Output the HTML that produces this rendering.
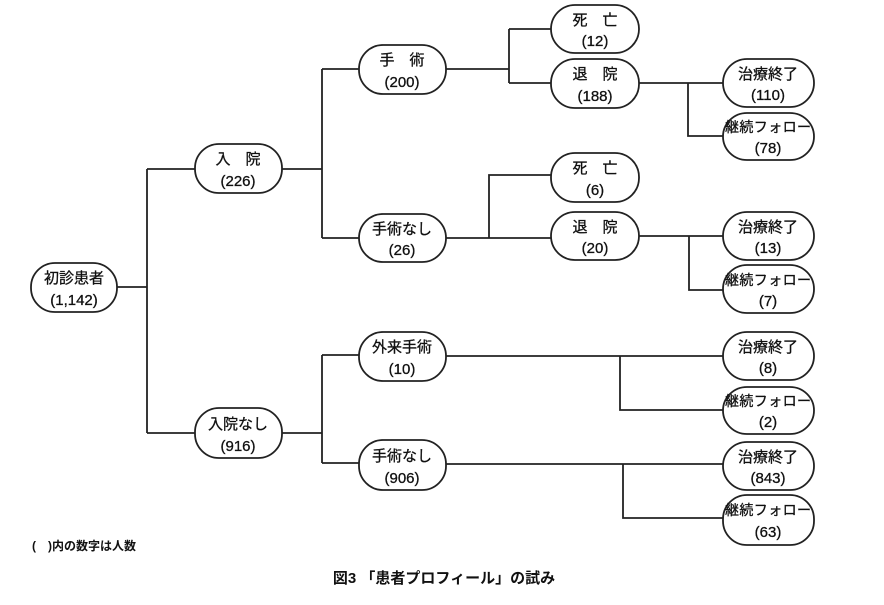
<!DOCTYPE html>
<html><head><meta charset="utf-8"><style>
body{margin:0;background:#fff;width:884px;height:600px;overflow:hidden;font-family:"Liberation Sans","Noto Sans CJK JP",sans-serif;}
</style></head><body>
<svg width="884" height="600" xmlns="http://www.w3.org/2000/svg" font-family="Liberation Sans, Noto Sans CJK JP, sans-serif">
<g stroke="#222" stroke-width="1.8" fill="none">
<path d="M117 287H147M147 169V433M147 169H195M147 433H195"/>
<path d="M282 169H322M322 69V238M322 69H359M322 238H359"/>
<path d="M446 69H509M509 29V83M509 29H551M509 83H551"/>
<path d="M639 83H723M688 83V136H723"/>
<path d="M446 238H551M489 238V175H551"/>
<path d="M639 236H723M689 236V290H723"/>
<path d="M282 433H322M322 355V463M322 355H359M322 463H359"/>
<path d="M446 356H723M620 356V410H723"/>
<path d="M446 464H723M623 464V518H723"/>
<g fill="#fff">
<rect x="31" y="263" width="86" height="49" rx="24"/>
<rect x="195" y="144" width="87" height="49" rx="24"/>
<rect x="359" y="45" width="87" height="49" rx="24"/>
<rect x="359" y="214" width="87" height="48" rx="24"/>
<rect x="551" y="5" width="88" height="48" rx="24"/>
<rect x="551" y="59" width="88" height="49" rx="24"/>
<rect x="551" y="153" width="88" height="49" rx="24"/>
<rect x="551" y="212" width="88" height="48" rx="24"/>
<rect x="723" y="59" width="91" height="48" rx="24"/>
<rect x="723" y="113" width="91" height="47" rx="24"/>
<rect x="723" y="212" width="91" height="48" rx="24"/>
<rect x="723" y="265" width="91" height="48" rx="24"/>
<rect x="195" y="408" width="87" height="50" rx="24"/>
<rect x="359" y="332" width="87" height="49" rx="24"/>
<rect x="359" y="440" width="87" height="50" rx="24"/>
<rect x="723" y="332" width="91" height="48" rx="24"/>
<rect x="723" y="387" width="91" height="47" rx="24"/>
<rect x="723" y="442" width="91" height="48" rx="24"/>
<rect x="723" y="495" width="91" height="50" rx="24"/>
</g></g>
<g font-size="15" fill="#111" text-anchor="middle" stroke="#111" stroke-width="0.3">
<text x="74" y="283">初診患者</text><text x="74" y="305">(1,142)</text>
<text x="238" y="164">入　院</text><text x="238" y="186">(226)</text>
<text x="402" y="65">手　術</text><text x="402" y="87">(200)</text>
<text x="402" y="234">手術なし</text><text x="402" y="255">(26)</text>
<text x="595" y="25">死　亡</text><text x="595" y="46">(12)</text>
<text x="595" y="79">退　院</text><text x="595" y="101">(188)</text>
<text x="595" y="173">死　亡</text><text x="595" y="195">(6)</text>
<text x="595" y="232">退　院</text><text x="595" y="253">(20)</text>
<text x="768" y="79">治療終了</text><text x="768" y="100">(110)</text>
<text x="768" y="132" font-size="14" textLength="86">継続フォロー</text><text x="768" y="153">(78)</text>
<text x="768" y="232">治療終了</text><text x="768" y="253">(13)</text>
<text x="768" y="285" font-size="14" textLength="86">継続フォロー</text><text x="768" y="306">(7)</text>
<text x="238" y="429">入院なし</text><text x="238" y="451">(916)</text>
<text x="402" y="352">外来手術</text><text x="402" y="374">(10)</text>
<text x="402" y="461">手術なし</text><text x="402" y="483">(906)</text>
<text x="768" y="352">治療終了</text><text x="768" y="373">(8)</text>
<text x="768" y="406" font-size="14" textLength="86">継続フォロー</text><text x="768" y="427">(2)</text>
<text x="768" y="462">治療終了</text><text x="768" y="483">(843)</text>
<text x="768" y="515" font-size="14" textLength="86">継続フォロー</text><text x="768" y="537">(63)</text>
</g>
<text x="32" y="550" font-size="12" font-weight="bold" fill="#111">(　)内の数字は人数</text>
<text x="444" y="583" font-size="15" font-weight="bold" fill="#111" text-anchor="middle">図3 「患者プロフィール」の試み</text>
</svg>
</body></html>
